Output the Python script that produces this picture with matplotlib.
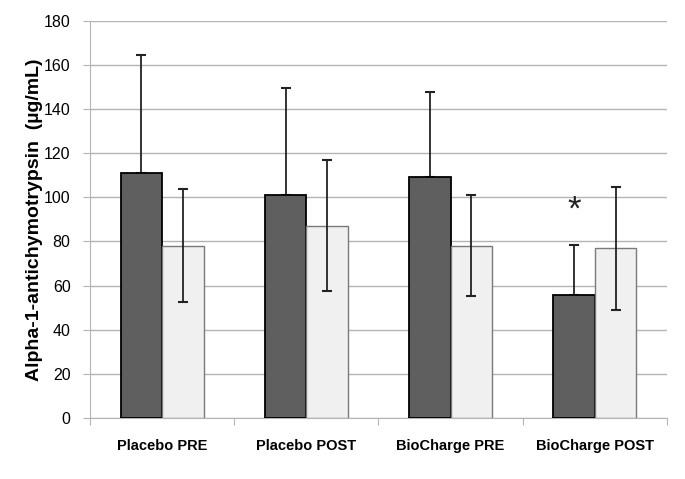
import numpy as np
import matplotlib
matplotlib.use('Agg')
import matplotlib.pyplot as plt

# values
groups    = ['Placebo PRE', 'Placebo POST', 'BioCharge PRE', 'BioCharge POST']
darkVals  = [111.0, 101.0, 109.4, 55.6]
darkErr   = [53.4, 48.4, 38.5, 22.7]
lightVals = [78.1, 87.2, 78.1, 76.8]
lightErr  = [25.6, 29.8, 23.0, 27.8]
starGroup = 3
starY     = 94.0

darkCol  = '#5f5f5f'
lightCol = '#f0f0f0'
gridCol  = '#b4b4b4'
sans     = ['Liberation Sans', 'DejaVu Sans']

fig = plt.figure(figsize=(6.85, 4.79), dpi=100)
ax = fig.add_axes([0.1314, 0.1273, 0.8423, 0.8295])

x = np.arange(len(groups))
w = 0.288

ax.bar(x - w/2, darkVals, w, color=darkCol, edgecolor='black', linewidth=1.3, zorder=3)
ax.bar(x + w/2, lightVals, w, color=lightCol, edgecolor='#7a7a7a', linewidth=1.0, zorder=3)

# dark bars show only the upper error bar
ax.errorbar(x - w/2, darkVals, yerr=[np.zeros(len(darkErr)), darkErr], fmt='none',
            ecolor='#222222', elinewidth=1.3, capsize=3.5, capthick=1.5, zorder=2)
ax.errorbar(x + w/2, lightVals, yerr=lightErr, fmt='none',
            ecolor='#222222', elinewidth=1.3, capsize=3.5, capthick=1.5, zorder=4)

ax.text(starGroup - w/2, starY, '*', ha='center', va='center', fontsize=25,
        fontfamily=sans, color='#222222')

ax.set_ylim(0, 180)
ax.set_xlim(-0.5, len(groups) - 0.5)
ax.set_yticks(np.arange(0, 181, 20))
ax.yaxis.grid(True, color=gridCol, linewidth=1.0, zorder=0)
ax.set_axisbelow(True)

ax.set_xticks(np.arange(-0.5, len(groups) - 0.4, 1.0), minor=False)
ax.set_xticklabels([])
ax.set_xticks(x, minor=True)
ax.set_xticklabels(groups, minor=True, fontfamily=sans, fontweight='bold', fontsize=10.5)
ax.tick_params(axis='x', which='minor', length=0, pad=15)
ax.tick_params(axis='x', which='major', length=5, color=gridCol, direction='out')
ax.tick_params(axis='y', length=5, color=gridCol, labelsize=11.5, pad=9)
for lab in ax.get_yticklabels():
    lab.set_fontfamily(sans)

for s in ['top', 'right']:
    ax.spines[s].set_visible(False)
ax.spines['left'].set_color(gridCol)
ax.spines['bottom'].set_color(gridCol)

ax.set_ylabel('Alpha-1-antichymotrypsin  (\u00b5g/mL)', fontsize=14, fontweight='bold',
              fontfamily=sans)
ax.yaxis.set_label_coords(-0.082, 0.5)

fig.savefig('out.png', dpi=100)
